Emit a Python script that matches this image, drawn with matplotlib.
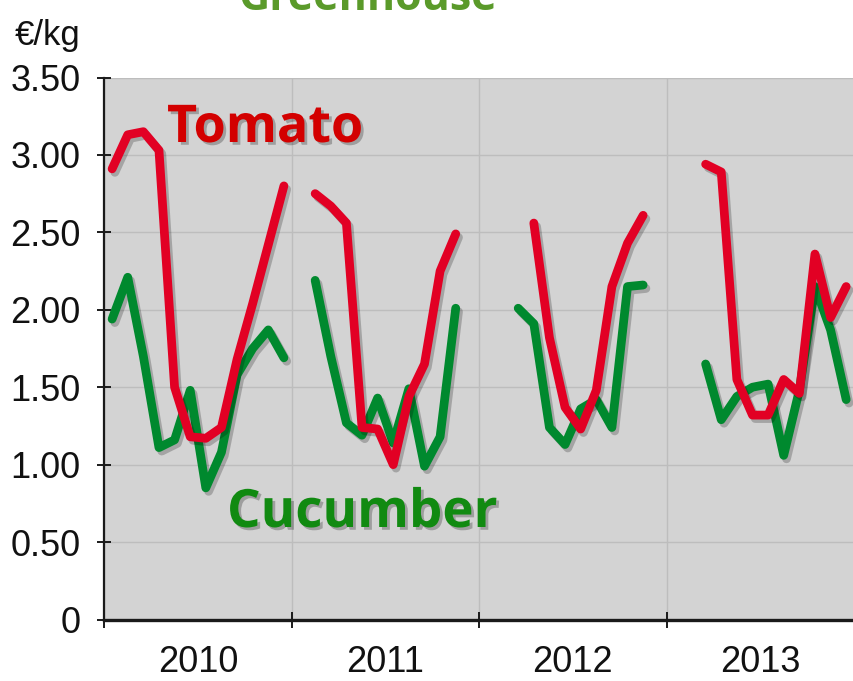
import numpy as np
import matplotlib
matplotlib.use("Agg")
import matplotlib.pyplot as plt
import matplotlib.patheffects as pe

nan = np.nan
years = ["2010", "2011", "2012", "2013"]
y_ticks = [0, 0.5, 1.0, 1.5, 2.0, 2.5, 3.0, 3.5]
y_tick_labels = ["0", "0.50", "1.00", "1.50", "2.00", "2.50", "3.00", "3.50"]

# monthly prices (EUR/kg), Jan..Dec for each year
tomato_2010 = [2.91, 3.13, 3.15, 3.03, 1.50, 1.18, 1.17, 1.24, 1.68, 2.04, 2.42, 2.80]
tomato_2011 = [nan, 2.75, 2.67, 2.56, 1.24, 1.23, 1.00, 1.44, 1.65, 2.25, 2.49, nan]
tomato_2012 = [nan, nan, nan, 2.56, 1.82, 1.37, 1.23, 1.48, 2.15, 2.43, 2.61, nan]
tomato_2013 = [nan, nan, 2.94, 2.89, 1.55, 1.32, 1.32, 1.55, 1.46, 2.36, 1.95, 2.15]

cucumber_2010 = [1.94, 2.21, 1.70, 1.11, 1.16, 1.48, 0.85, 1.08, 1.58, 1.75, 1.87, 1.69]
cucumber_2011 = [nan, 2.19, 1.70, 1.27, 1.19, 1.43, 1.14, 1.49, 0.99, 1.18, 2.01, nan]
cucumber_2012 = [nan, nan, 2.01, 1.91, 1.24, 1.13, 1.36, 1.42, 1.24, 2.15, 2.16, nan]
cucumber_2013 = [nan, nan, 1.65, 1.29, 1.44, 1.50, 1.52, 1.06, 1.48, 2.15, 1.87, 1.42]

tomato = np.array(tomato_2010 + tomato_2011 + tomato_2012 + tomato_2013)
cucumber = np.array(cucumber_2010 + cucumber_2011 + cucumber_2012 + cucumber_2013)
x = np.arange(len(tomato)) + 0.5

W, H = 854, 681
fig = plt.figure(figsize=(W / 100, H / 100), dpi=100)
left_px, right_px, top_px, bottom_px = 104.3, 854, 77.5, 619.5
ax = fig.add_axes([left_px / W, 1 - bottom_px / H, (right_px - left_px) / W, (bottom_px - top_px) / H])
ax.set_facecolor("#d3d3d3")

narrow = ["Liberation Sans Narrow", "Liberation Sans", "DejaVu Sans"]
boldf = ["Open Sans", "DejaVu Sans"]

shadow = [pe.SimpleLineShadow(offset=(2, -2.5), shadow_color="black", alpha=0.22), pe.Normal()]
ax.plot(x, cucumber, color="#00892e", lw=6.3, solid_capstyle="round", solid_joinstyle="round",
        path_effects=shadow, zorder=3)
ax.plot(x, tomato, color="#e20024", lw=6.3, solid_capstyle="round", solid_joinstyle="round",
        path_effects=shadow, zorder=4)

ax.set_ylim(0, 3.5)
ax.set_xlim(0, (right_px - left_px) / (188.6 / 12))
ax.set_yticks(y_ticks)
ax.set_yticklabels(y_tick_labels)
ax.set_xticks([0, 12, 24, 36, 48])
ax.set_xticklabels([])
ax.set_xticks([6, 18, 30, 42], minor=True)
ax.set_xticklabels(years, minor=True)

ax.grid(True, which="major", color="#bdbdbd", lw=1.0)
ax.set_axisbelow(True)
for s in ["top", "right"]:
    ax.spines[s].set_visible(False)
ax.spines["left"].set_linewidth(1.6)
ax.spines["left"].set_color("#1a1a1a")
ax.spines["bottom"].set_linewidth(2.4)
ax.spines["bottom"].set_color("#1a1a1a")

ax.tick_params(axis="y", which="major", direction="inout", length=10, width=1.4, pad=12, color="#1a1a1a")
ax.tick_params(axis="x", which="major", direction="inout", length=12, width=1.4, color="#1a1a1a")
ax.tick_params(axis="x", which="minor", length=0, pad=18)
for lab in ax.get_yticklabels() + ax.get_xticklabels(minor=True):
    lab.set_fontfamily(narrow)
    lab.set_fontsize(26)
    lab.set_color("#111111")

fig.text(15 / W, 1 - 45 / H, "€/kg", fontsize=25, family=narrow, color="#111111", va="baseline", ha="left")

tshadow = [pe.SimplePatchShadow(offset=(2, -2), shadow_rgbFace="black", alpha=0.25), pe.Normal()]
fig.text(167 / W, 1 - 142 / H, "Tomato", fontsize=37.5, family=boldf, weight="bold",
         color="#d30000", va="baseline", ha="left", path_effects=tshadow)
fig.text(227 / W, 1 - 527 / H, "Cucumber", fontsize=38, family=boldf, weight="bold",
         color="#118a11", va="baseline", ha="left", path_effects=tshadow)
fig.text(368 / W, 1 - 10 / H, "Greenhouse", fontsize=31, family=boldf, weight="bold",
         color="#5a9a2a", va="baseline", ha="center")

fig.savefig("out.png", dpi=100)
